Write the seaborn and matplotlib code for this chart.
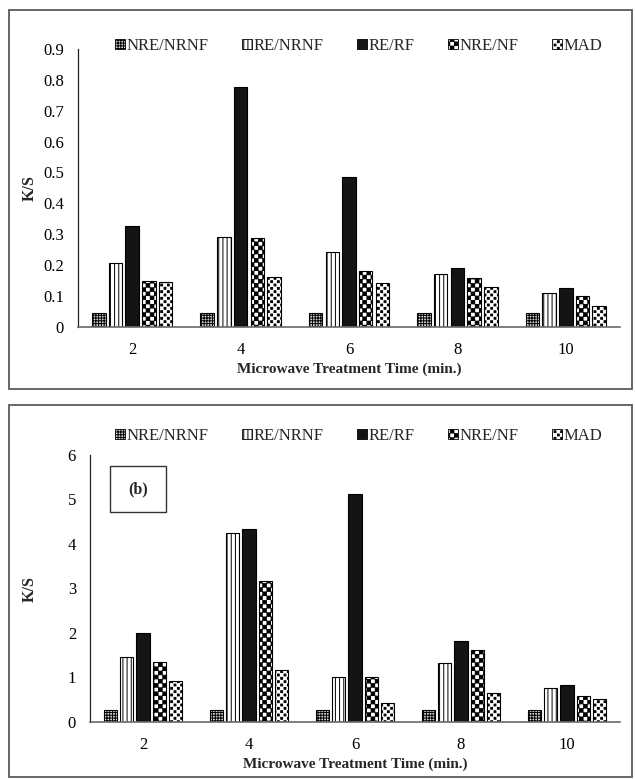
import numpy as np
import pandas as pd
import matplotlib
matplotlib.use("Agg")
import matplotlib.pyplot as plt
import matplotlib.hatch as mhatch
from matplotlib.path import Path
from matplotlib.patches import Patch, Rectangle
import seaborn as sns

# ---------------- data ----------------
times = ["2", "4", "6", "8", "10"]
series = ["NRE/NRNF", "RE/NRNF", "RE/RF", "NRE/NF", "MAD"]
top_nre_nrnf = [0.045, 0.045, 0.045, 0.045, 0.045]
top_re_nrnf = [0.207, 0.292, 0.241, 0.171, 0.108]
top_re_rf = [0.326, 0.778, 0.485, 0.190, 0.125]
top_nre_nf = [0.148, 0.289, 0.180, 0.157, 0.100]
top_mad = [0.144, 0.161, 0.143, 0.129, 0.066]
bot_nre_nrnf = [0.27, 0.27, 0.27, 0.27, 0.27]
bot_re_nrnf = [1.46, 4.25, 1.00, 1.33, 0.75]
bot_re_rf = [2.00, 4.33, 5.12, 1.82, 0.83]
bot_nre_nf = [1.35, 3.17, 1.01, 1.61, 0.57]
bot_mad = [0.92, 1.16, 0.41, 0.65, 0.52]
top_yticks = [0, 0.1, 0.2, 0.3, 0.4, 0.5, 0.6, 0.7, 0.8, 0.9]
top_yticklabels = ["0", "0.1", "0.2", "0.3", "0.4", "0.5", "0.6", "0.7", "0.8", "0.9"]
bot_yticks = [0, 1, 2, 3, 4, 5, 6]
xlabel = "Microwave Treatment Time (min.)"
ylabel = "K/S"
panel_tag = "(b)"


# ---------------- custom hatches ----------------
class CheckerHatch(mhatch.HatchPatternBase):
    """Checkerboard made of filled squares; triggered by '*'."""
    def __init__(self, hatch, density):
        n = hatch.count('*') * density
        if n % 2:
            n += 1
        self.n = n
        self.num_vertices = (n * n // 2) * 5 if n else 0

    def set_vertices_and_codes(self, vertices, codes):
        n = self.n
        s = 1.0 / n
        d = 0.003
        k = 0
        for i in range(n):
            for j in range(n):
                if (i + j) % 2 == 0:
                    x, y = i * s, j * s
                    vertices[k:k + 5] = [(x + d, y + d), (x + s - d, y + d),
                                         (x + s - d, y + s - d), (x + d, y + s - d),
                                         (x + d, y + d)]
                    codes[k] = Path.MOVETO
                    codes[k + 1:k + 4] = Path.LINETO
                    codes[k + 4] = Path.CLOSEPOLY
                    k += 5


class ConfettiHatch(mhatch.HatchPatternBase):
    """Staggered dots; triggered by 'O'."""
    def __init__(self, hatch, density):
        n = hatch.count('O') * density
        if n % 2:
            n += 1
        self.n = n
        self.num_vertices = (n * n // 2) * 5 if n else 0

    def set_vertices_and_codes(self, vertices, codes):
        n = self.n
        s = 1.0 / n
        h = s * 0.28
        k = 0
        for i in range(n):
            for j in range(n):
                if (i + j) % 2 == 0:
                    cx, cy = (i + 0.5) * s, (j + 0.5) * s
                    vertices[k:k + 5] = [(cx - h, cy - h), (cx + h, cy - h),
                                         (cx + h, cy + h), (cx - h, cy + h),
                                         (cx - h, cy - h)]
                    codes[k] = Path.MOVETO
                    codes[k + 1:k + 4] = Path.LINETO
                    codes[k + 4] = Path.CLOSEPOLY
                    k += 5


mhatch._hatch_types[:] = [mhatch.HorizontalHatch, mhatch.VerticalHatch,
                          mhatch.NorthEastHatch, mhatch.SouthEastHatch,
                          mhatch.SmallCircles, mhatch.SmallFilledCircles,
                          CheckerHatch, ConfettiHatch]

# ---------------- style ----------------
sns.set_theme(style="white")
plt.rcParams['font.family'] = ['Liberation Serif', 'DejaVu Serif']
plt.rcParams['hatch.linewidth'] = 0.7
plt.rcParams['hatch.color'] = 'black'

styles = {
    "NRE/NRNF": dict(fc="#d0d0d0", hatch="++++++"),
    "RE/NRNF": dict(fc="white", hatch="||||"),
    "RE/RF": dict(fc="#141414", hatch=None),
    "NRE/NF": dict(fc="white", hatch="****"),
    "MAD": dict(fc="white", hatch="OOOOO"),
}

W, H = 635, 779
fig = plt.figure(figsize=(W / 100, H / 100), dpi=100)


def fx(px):
    return px / W


def fy(py):
    return 1 - py / H


def make_df(vals):
    rows = []
    for s, v in zip(series, vals):
        for t, val in zip(times, v):
            rows.append(dict(time=t, series=s, value=val))
    return pd.DataFrame(rows)


def draw_panel(rect, vals, ylim, yticks, yticklabels, legend_y):
    ax = fig.add_axes(rect)
    df = make_df(vals)
    sns.barplot(data=df, x="time", y="value", hue="series", order=times,
                hue_order=series, palette=["white"] * 5, width=0.77, gap=0.19,
                edgecolor="black", linewidth=0.8, legend=False, ax=ax,
                errorbar=None, saturation=1)
    for cont, s in zip(ax.containers, series):
        st = styles[s]
        for p in cont:
            p.set_facecolor(st["fc"])
            if st["hatch"]:
                p.set_hatch(st["hatch"])
    ax.set_xlim(-0.5, 4.5)
    ax.set_ylim(*ylim)
    ax.set_yticks(yticks)
    ax.set_yticklabels(yticklabels)
    ax.tick_params(axis='both', length=0, labelsize=12, colors='black')
    ax.tick_params(axis='y', pad=10)
    ax.tick_params(axis='x', pad=11)
    for sp in ["top", "right"]:
        ax.spines[sp].set_visible(False)
    ax.spines["left"].set_color("#222222")
    ax.spines["left"].set_linewidth(0.9)
    ax.spines["bottom"].set_color("#6a6a6a")
    ax.spines["bottom"].set_linewidth(1.2)
    ax.set_xlabel(xlabel, fontsize=11, fontweight='bold', labelpad=3)
    ax.set_ylabel("")
    ax.set_facecolor("white")
    handles = [Patch(facecolor=styles[s]["fc"], edgecolor="black", linewidth=0.6,
                     hatch=styles[s]["hatch"], label=s) for s in series]
    fig.legend(handles=handles, loc="center", bbox_to_anchor=(fx(359), fy(legend_y)),
               ncol=5, frameon=False, fontsize=12, handlelength=0.6,
               handleheight=0.6, handletextpad=0.1, columnspacing=2.0,
               borderpad=0, borderaxespad=0)
    return ax


ax1 = draw_panel([fx(78), fy(326.7), fx(620) - fx(78), fy(49) - fy(326.7)],
                 [top_nre_nrnf, top_re_nrnf, top_re_rf, top_nre_nf, top_mad],
                 (0, 0.9), top_yticks, top_yticklabels, 46)
ax2 = draw_panel([fx(90), fy(721.7), fx(620) - fx(90), fy(455) - fy(721.7)],
                 [bot_nre_nrnf, bot_re_nrnf, bot_re_rf, bot_nre_nf, bot_mad],
                 (0, 6), bot_yticks, [str(t) for t in bot_yticks], 436)

# y labels
fig.text(fx(30), fy(188), ylabel, rotation=90, ha='center', va='center',
         fontsize=11.5, fontweight='bold')
fig.text(fx(30), fy(589), ylabel, rotation=90, ha='center', va='center',
         fontsize=11.5, fontweight='bold')

# panel frames
for (y0, y1) in [(10, 389), (405, 777)]:
    fig.add_artist(Rectangle((fx(9), fy(y1)), fx(632) - fx(9), fy(y0) - fy(y1),
                             transform=fig.transFigure, fill=False,
                             edgecolor="#5a5a5a", linewidth=1.3))

# (b) tag box
fig.add_artist(Rectangle((fx(110), fy(512)), fx(166) - fx(110), fy(466) - fy(512),
                         transform=fig.transFigure, fill=False,
                         edgecolor="#333333", linewidth=1.0))
fig.text(fx(138), fy(489), panel_tag, ha='center', va='center',
         fontsize=11.5, fontweight='bold')

fig.savefig("out.png", dpi=100, facecolor="white")
